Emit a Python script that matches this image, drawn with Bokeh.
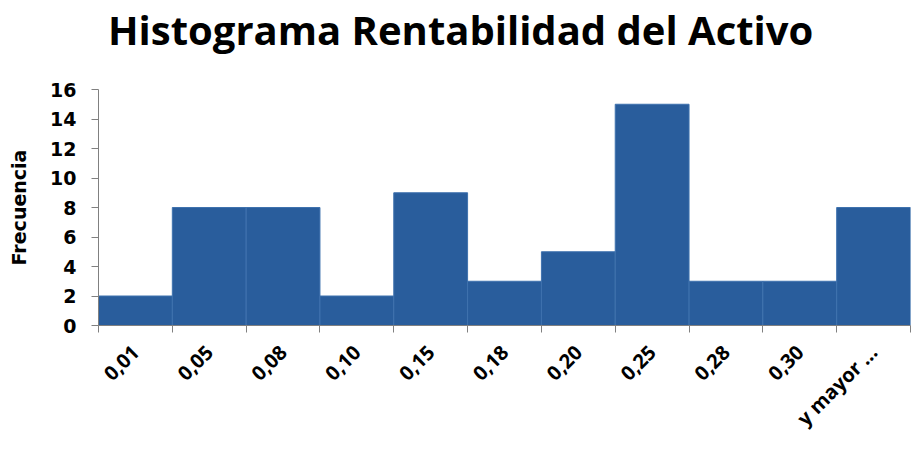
import math
from bokeh.plotting import figure
from bokeh.models import ColumnDataSource, FixedTicker, Range1d, Div
from bokeh.layouts import column
from bokeh.embed import file_html
from bokeh.resources import INLINE

title_text = "Histograma Rentabilidad del Activo"
categories = ["0,01", "0,05", "0,08", "0,10", "0,15", "0,18", "0,20", "0,25", "0,28", "0,30", "y mayor ..."]
frecuencia = [2, 8, 8, 2, 9, 3, 5, 15, 3, 3, 8]
y_ticks = [0, 2, 4, 6, 8, 10, 12, 14, 16]

n = len(categories)
centers = [i + 0.5 for i in range(n)]
src = ColumnDataSource(dict(x=centers, top=frecuencia))

TITLE_H = 60
title_div = Div(
    text=('<div style="font-family:\'Open Sans\';font-weight:bold;font-size:40px;'
          'line-height:40px;padding-left:108px;padding-top:10px;color:#000000;'
          'white-space:nowrap;">' + title_text + '</div>'),
    width=911, height=TITLE_H, margin=0)

p = figure(width=911, height=454 - TITLE_H, output_backend="svg", toolbar_location=None,
           x_range=Range1d(0, n), y_range=Range1d(0, 16),
           min_border_left=98, min_border_right=1, min_border_top=89 - TITLE_H,
           min_border_bottom=129, margin=0)

p.vbar(x="x", top="top", width=1.0, bottom=0, source=src,
       fill_color="#295d9c", line_color="#3f72ae", line_width=1)

p.grid.visible = False
p.outline_line_color = None
p.background_fill_color = "white"
p.border_fill_color = "white"

xa = p.xaxis[0]
xa.ticker = FixedTicker(ticks=centers, minor_ticks=list(range(n + 1)))
xa.major_label_overrides = {c: lab for c, lab in zip(centers, categories)}
xa.major_tick_line_color = None
xa.minor_tick_line_color = "#808080"
xa.minor_tick_out = 7
xa.minor_tick_in = 0
xa.axis_line_color = "#808080"
xa.major_label_orientation = math.pi / 4
xa.major_label_text_font = "Open Sans"
xa.major_label_text_font_style = "bold"
xa.major_label_text_font_size = "20px"
xa.major_label_text_color = "#000000"
xa.major_label_standoff = 16

ya = p.yaxis[0]
ya.ticker = FixedTicker(ticks=y_ticks, minor_ticks=[])
ya.major_tick_line_color = "#808080"
ya.major_tick_out = 7
ya.major_tick_in = 0
ya.minor_tick_line_color = None
ya.axis_line_color = "#808080"
ya.major_label_text_font = "DejaVu Sans"
ya.major_label_text_font_style = "bold"
ya.major_label_text_font_size = "19px"
ya.major_label_text_color = "#000000"
ya.major_label_standoff = 15
ya.axis_label = "Frecuencia"
ya.axis_label_text_font = "DejaVu Sans"
ya.axis_label_text_font_style = "bold"
ya.axis_label_text_font_size = "19px"
ya.axis_label_text_color = "#000000"
ya.axis_label_standoff = 17

layout = column(title_div, p, spacing=0, margin=0)
open("out.html", "w").write(file_html(layout, INLINE))
